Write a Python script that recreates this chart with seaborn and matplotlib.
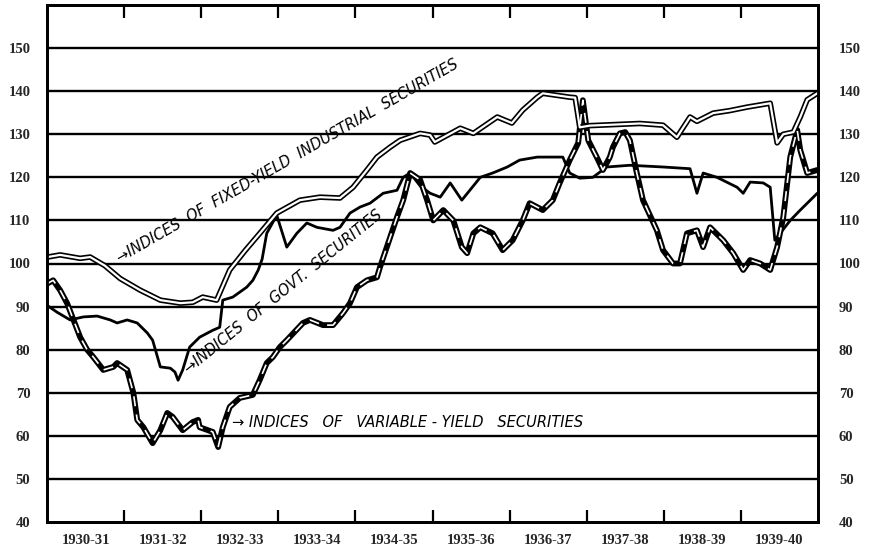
import matplotlib
matplotlib.use("Agg")
import matplotlib.pyplot as plt
import pandas as pd
import seaborn as sns

# fiscal years on the x axis, positions are in fractional years from July 1930
YEAR_LABELS = ["1930-31", "1931-32", "1932-33", "1933-34", "1934-35",
               "1935-36", "1936-37", "1937-38", "1938-39", "1939-40"]
Y_TICKS = [40, 50, 60, 70, 80, 90, 100, 110, 120, 130, 140, 150]

fixed_t = [0.01, 0.17, 0.43, 0.56, 0.75, 0.95, 1.21, 1.47, 1.73, 1.89, 2.02, 2.20,
           2.37, 2.57, 2.76, 2.98, 3.28, 3.54, 3.80, 3.97, 4.15, 4.28, 4.45, 4.58,
           4.84, 4.97, 5.03, 5.36, 5.53, 5.84, 6.03, 6.17, 6.36, 6.43, 6.78, 6.85,
           6.91, 7.04, 7.69, 7.99, 8.17, 8.34, 8.43, 8.64, 8.86, 9.08, 9.38, 9.47,
           9.55, 9.68, 9.77, 9.86, 9.99]
fixed_v = [101.5, 102.0, 101.2, 101.5, 99.5, 96.5, 93.8, 91.5, 90.8, 91.0, 92.2, 91.5,
           98.5, 103.0, 107.0, 111.7, 114.7, 115.4, 115.2, 117.7, 121.7, 124.7, 127.0, 128.6,
           130.2, 129.8, 128.2, 131.4, 130.2, 134.0, 132.6, 135.6, 138.6, 139.5, 138.6, 138.5,
           131.6, 132.0, 132.5, 132.1, 129.3, 134.0, 133.0, 134.9, 135.5, 136.3, 137.2, 128.0,
           130.0, 130.5, 134.0, 138.0, 139.5]

govt_t = [0.00, 0.13, 0.30, 0.47, 0.65, 0.82, 0.91, 1.04, 1.17, 1.30, 1.37, 1.47,
          1.60, 1.66, 1.70, 1.76, 1.85, 1.98, 2.15, 2.24, 2.28, 2.41, 2.59, 2.67,
          2.74, 2.79, 2.85, 2.98, 3.11, 3.24, 3.37, 3.50, 3.71, 3.80, 3.93, 4.06,
          4.19, 4.36, 4.54, 4.62, 4.71, 4.84, 4.97, 5.10, 5.23, 5.38, 5.62, 5.78,
          5.97, 6.13, 6.36, 6.69, 6.78, 6.91, 7.08, 7.26, 7.56, 7.99, 8.34, 8.43,
          8.51, 8.69, 8.95, 9.03, 9.12, 9.29, 9.38, 9.44, 9.64, 9.77, 9.94, 9.99]
govt_v = [90.3, 88.7, 86.9, 87.6, 87.8, 86.9, 86.2, 86.9, 86.2, 83.9, 82.2, 76.0,
          75.7, 74.8, 72.9, 75.3, 80.6, 82.9, 84.5, 85.2, 91.5, 92.2, 94.5, 96.1,
          98.5, 101.0, 107.0, 111.2, 103.8, 107.0, 109.4, 108.4, 107.7, 108.4, 111.7, 113.1,
          114.0, 116.3, 117.0, 120.0, 121.0, 118.0, 116.3, 115.4, 118.7, 114.7, 120.0, 121.0,
          122.4, 124.0, 124.7, 124.7, 121.0, 119.8, 120.0, 122.4, 122.8, 122.4, 122.0, 116.3,
          121.0, 120.0, 117.7, 116.3, 118.9, 118.7, 117.7, 105.4, 110.0, 112.4, 115.4, 116.3]

var_t = [0.01, 0.08, 0.17, 0.26, 0.43, 0.52, 0.60, 0.73, 0.86, 0.91, 1.04, 1.12,
         1.17, 1.25, 1.37, 1.47, 1.56, 1.63, 1.76, 1.89, 1.96, 1.98, 2.15, 2.22,
         2.28, 2.37, 2.50, 2.67, 2.76, 2.85, 2.93, 3.02, 3.11, 3.32, 3.41, 3.58,
         3.71, 3.84, 3.93, 4.02, 4.15, 4.28, 4.32, 4.54, 4.62, 4.71, 4.84, 4.93,
         5.01, 5.14, 5.27, 5.38, 5.45, 5.53, 5.62, 5.78, 5.91, 6.04, 6.17, 6.26,
         6.43, 6.56, 6.65, 6.78, 6.89, 6.95, 7.02, 7.13, 7.21, 7.30, 7.34, 7.43,
         7.50, 7.56, 7.65, 7.73, 7.91, 7.99, 8.12, 8.21, 8.30, 8.43, 8.51, 8.60,
         8.77, 8.90, 9.03, 9.12, 9.25, 9.38, 9.47, 9.55, 9.64, 9.73, 9.77, 9.86, 9.99]
var_v = [95.4, 96.1, 93.8, 90.8, 82.9, 80.0, 78.3, 75.3, 76.0, 76.9, 75.3, 70.0,
         63.7, 62.0, 58.3, 61.3, 65.3, 64.4, 61.3, 63.2, 63.7, 62.0, 60.9, 57.4,
         62.0, 66.7, 68.8, 69.5, 73.0, 76.9, 78.3, 80.6, 82.2, 86.2, 86.9, 85.7,
         85.7, 88.5, 90.8, 94.5, 96.1, 96.8, 99.2, 110.8, 114.7, 121.0, 119.4, 114.7,
         110.0, 112.4, 110.0, 103.8, 102.4, 107.0, 108.4, 107.0, 103.1, 105.4, 110.0, 114.0,
         112.4, 114.7, 118.7, 124.0, 128.0, 137.9, 128.6, 124.7, 121.7, 124.7, 127.0, 130.2,
         130.5, 128.6, 121.0, 114.7, 107.7, 103.1, 100.0, 100.0, 107.0, 107.7, 103.8, 108.4,
         105.4, 102.4, 98.5, 100.8, 100.0, 98.5, 103.8, 110.8, 124.7, 131.0, 126.3, 121.0, 121.7]

fixed = pd.DataFrame({"t": fixed_t, "v": fixed_v})
govt = pd.DataFrame({"t": govt_t, "v": govt_v})
var = pd.DataFrame({"t": var_t, "v": var_v})

sns.set_style("white")
plt.rcParams["font.family"] = ["DejaVu Sans"]

fig = plt.figure(figsize=(8.72, 5.55), dpi=100)
ax = fig.add_axes([47 / 872, 1 - 522 / 555, (818 - 47) / 872, (522 - 5) / 555])

for v in Y_TICKS[1:]:
    ax.axhline(v, color="black", lw=1.7, zorder=1)

sns.lineplot(data=govt, x="t", y="v", ax=ax, sort=False, estimator=None,
             color="black", linewidth=2.0, zorder=3)
sns.lineplot(data=var, x="t", y="v", ax=ax, sort=False, estimator=None,
             color="black", linewidth=4.2, zorder=4)
sns.lineplot(data=var, x="t", y="v", ax=ax, sort=False, estimator=None,
             color="white", linewidth=1.2, zorder=5)
ax.lines[-1].set_dashes([6, 5])
sns.lineplot(data=fixed, x="t", y="v", ax=ax, sort=False, estimator=None,
             color="black", linewidth=4.0, zorder=4)
sns.lineplot(data=fixed, x="t", y="v", ax=ax, sort=False, estimator=None,
             color="white", linewidth=1.6, zorder=5)

ax.set_xlim(0, 10)
ax.set_ylim(40, 160)
ax.set_xlabel("")
ax.set_ylabel("")

tick_font = dict(family="Liberation Serif", fontweight="bold", fontsize=10.5)

# year boundaries as inward ticks, year names centred between them
ax.set_xticks(range(1, 10))
ax.set_xticklabels([])
ax.tick_params(axis="x", which="major", direction="in", top=True, bottom=True,
               length=9, width=1.6, color="black")
ax.set_xticks([i + 0.5 for i in range(10)], minor=True)
ax.set_xticklabels(YEAR_LABELS, minor=True, **tick_font)
ax.tick_params(axis="x", which="minor", length=0, pad=9)

ax.set_yticks(Y_TICKS)
ax.set_yticklabels([str(v) for v in Y_TICKS], **tick_font)
ax.tick_params(axis="y", length=0, pad=12)

ax2 = ax.twinx()
ax2.set_ylim(40, 160)
ax2.set_yticks(Y_TICKS)
ax2.set_yticklabels([str(v) for v in Y_TICKS], **tick_font)
ax2.tick_params(axis="y", length=0, pad=15)

for a in (ax, ax2):
    for sp in a.spines.values():
        sp.set_visible(True)
        sp.set_color("black")
        sp.set_linewidth(2.0)

label_kw = dict(fontsize=10.5, style="italic", color="black", ha="left",
                va="baseline", rotation_mode="anchor", zorder=6)
ax.text(0.95, 100.2, "→INDICES  OF  FIXED-YIELD  INDUSTRIAL  SECURITIES",
        rotation=30, **label_kw)
ax.text(1.84, 74.3, "→INDICES  OF  GOVT.  SECURITIES", rotation=39, **label_kw)
ax.text(2.40, 62.0, "→ INDICES   OF   VARIABLE - YIELD   SECURITIES", rotation=0, **label_kw)

fig.savefig("out.png", dpi=100)
